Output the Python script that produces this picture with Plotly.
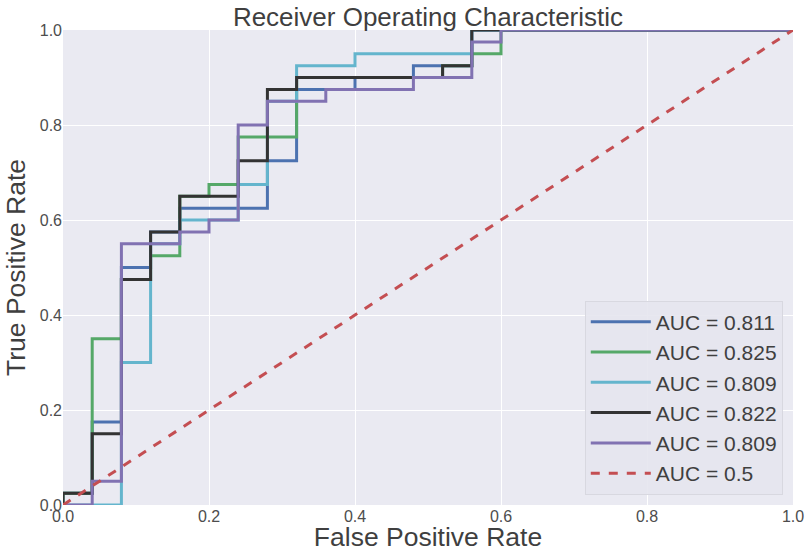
import plotly.graph_objects as go

# ROC curve data (fpr, tpr corner points)
fpr_1 = [0, 0, 0.04, 0.04, 0.08, 0.08, 0.12, 0.12, 0.16, 0.16, 0.28, 0.28, 0.32, 0.32, 0.4, 0.4, 0.48, 0.48, 0.56, 0.56, 1]
tpr_1 = [0, 0.025, 0.025, 0.175, 0.175, 0.5, 0.5, 0.575, 0.575, 0.625, 0.625, 0.725, 0.725, 0.875, 0.875, 0.9, 0.9, 0.925, 0.925, 1, 1]

fpr_2 = [0, 0, 0.04, 0.04, 0.08, 0.08, 0.12, 0.12, 0.16, 0.16, 0.2, 0.2, 0.24, 0.24, 0.32, 0.32, 0.52, 0.52, 0.56, 0.56, 0.6, 0.6, 1]
tpr_2 = [0, 0.025, 0.025, 0.35, 0.35, 0.475, 0.475, 0.525, 0.525, 0.65, 0.65, 0.675, 0.675, 0.775, 0.775, 0.9, 0.9, 0.925, 0.925, 0.95, 0.95, 1, 1]

fpr_3 = [0, 0.08, 0.08, 0.12, 0.12, 0.16, 0.16, 0.24, 0.24, 0.28, 0.28, 0.32, 0.32, 0.4, 0.4, 0.56, 0.56, 1]
tpr_3 = [0, 0, 0.3, 0.3, 0.55, 0.55, 0.6, 0.6, 0.675, 0.675, 0.85, 0.85, 0.925, 0.925, 0.95, 0.95, 1, 1]

fpr_4 = [0, 0, 0.04, 0.04, 0.08, 0.08, 0.12, 0.12, 0.16, 0.16, 0.24, 0.24, 0.28, 0.28, 0.32, 0.32, 0.52, 0.52, 0.56, 0.56, 1]
tpr_4 = [0, 0.025, 0.025, 0.15, 0.15, 0.475, 0.475, 0.575, 0.575, 0.65, 0.65, 0.725, 0.725, 0.875, 0.875, 0.9, 0.9, 0.925, 0.925, 1, 1]

fpr_5 = [0, 0.04, 0.04, 0.08, 0.08, 0.16, 0.16, 0.2, 0.2, 0.24, 0.24, 0.28, 0.28, 0.36, 0.36, 0.48, 0.48, 0.56, 0.56, 0.6, 0.6, 1]
tpr_5 = [0, 0, 0.05, 0.05, 0.55, 0.55, 0.575, 0.575, 0.6, 0.6, 0.8, 0.8, 0.85, 0.85, 0.875, 0.875, 0.9, 0.9, 0.975, 0.975, 1, 1]

labels = ["AUC = 0.811", "AUC = 0.825", "AUC = 0.809", "AUC = 0.822", "AUC = 0.809"]
chance_x = [0, 1]
chance_y = [0, 1]
chance_label = "AUC = 0.5"

tick_vals = [0, 0.2, 0.4, 0.6, 0.8, 1.0]

colors = ["#4C72B0", "#55A868", "#64B5CD", "#333333", "#8172B2"]
red = "#C44E52"

font_family = "Liberation Sans, Arial, sans-serif"
text_col = "#3f3f3f"

fig = go.Figure()
curves = [(fpr_1, tpr_1), (fpr_2, tpr_2), (fpr_3, tpr_3), (fpr_4, tpr_4), (fpr_5, tpr_5)]
for (fx, ty), lab, col in zip(curves, labels, colors):
    fig.add_trace(go.Scatter(x=fx, y=ty, mode="lines", name=lab,
                             line=dict(color=col, width=3)))
fig.add_trace(go.Scatter(x=chance_x, y=chance_y, mode="lines", name=chance_label,
                         line=dict(color=red, width=3, dash="dash")))

fig.update_layout(
    width=809, height=552,
    margin=dict(l=63, r=16, t=30, b=47, autoexpand=False),
    paper_bgcolor="white",
    plot_bgcolor="#EAEAF2",
    font=dict(family=font_family, color=text_col),
    title=dict(text="Receiver Operating Characteristic", x=0.529, xanchor="center",
               y=0.969, yanchor="middle", font=dict(size=26, color=text_col)),
    showlegend=True,
    legend=dict(x=0.986, y=0.022, xanchor="right", yanchor="bottom",
                bgcolor="rgba(229,229,238,0.9)", bordercolor="#D8D8E0", borderwidth=1,
                font=dict(size=21, color=text_col), itemwidth=60,
                tracegroupgap=0),
)
fig.update_xaxes(range=[0, 1], tickvals=tick_vals, tickformat=".1f", automargin=False,
                 showgrid=True, gridcolor="white", gridwidth=1, zeroline=False,
                 showline=False, ticks="", tickfont=dict(size=16, color="#4d4d4d"),
                 title=dict(text="False Positive Rate", font=dict(size=26.5, color=text_col), standoff=4))
fig.update_yaxes(range=[0, 1], tickvals=tick_vals, tickformat=".1f", automargin=False,
                 showgrid=True, gridcolor="white", gridwidth=1, zeroline=False,
                 showline=False, ticks="", tickfont=dict(size=16, color="#4d4d4d"),
                 title=dict(text="True Positive Rate", font=dict(size=26.5, color=text_col), standoff=6))

# remove the page's default body margin so the 809x552 figure fills the window exactly
fig.write_html("out.html", config={"displayModeBar": False},
               post_script="document.body.style.margin='0';document.body.style.overflow='hidden';")
